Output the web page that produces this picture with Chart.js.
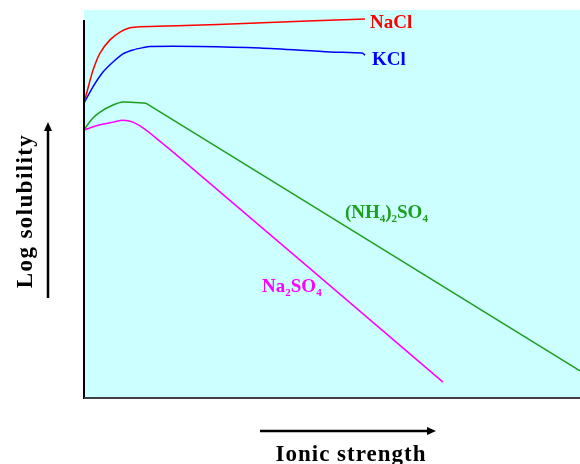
<!DOCTYPE html>
<html>
<head>
<meta charset="utf-8">
<script src="https://cdn.jsdelivr.net/npm/chart.js@4"></script>
<style>
html,body{margin:0;padding:0;background:#fff;}
#c{display:block;}
</style>
</head>
<body>
<canvas id="c" width="580" height="464"></canvas>
<script>
// Ionic strength (arbitrary units, 0-100) and log solubility (arbitrary units, 0-100)
const naclX = [0, 0.81, 1.81, 3.23, 5.24, 7.26, 9.27, 11.29, 20.36, 33.47, 56.65];
const naclY = [76.0, 79.9, 84.5, 88.9, 92.3, 94.3, 95.4, 95.7, 96.0, 96.6, 97.7];
const kclX = [0, 1.81, 3.83, 5.85, 7.86, 9.88, 11.90, 13.31, 23.39, 35.48, 49.60, 56.05, 56.65];
const kclY = [76.0, 80.2, 84.0, 86.6, 88.7, 89.7, 90.3, 90.6, 90.6, 90.2, 89.2, 88.9, 88.4];
const amsX = [0, 1.61, 3.23, 5.85, 7.86, 11.90, 12.70, 100];
const amsY = [69.1, 71.9, 73.7, 75.5, 76.3, 76.0, 75.8, 7.0];
const nasX = [0, 3.23, 5.85, 7.86, 9.88, 11.90, 14.72, 19.35, 72.38];
const nasY = [69.1, 70.4, 71.1, 71.6, 71.1, 69.6, 66.8, 61.9, 4.1];

const seriesNames = ["NaCl", "KCl", "(NH4)2SO4", "Na2SO4"];
const xTitle = "Ionic strength";
const yTitle = "Log solubility";

const pts = (xs, ys) => xs.map((x, i) => ({x: x, y: ys[i]}));

const colors = {nacl: "#FF0000", kcl: "#0000FF", ams: "#1E9E1E", nas: "#FF00FF"};

const decor = {
  id: "decor",
  beforeDraw(chart) {
    const {ctx, chartArea: a} = chart;
    ctx.save();
    ctx.fillStyle = "#CCFFFF";
    ctx.fillRect(a.left, a.top, a.right - a.left, a.bottom - a.top);
    ctx.restore();
  },
  afterDraw(chart) {
    const {ctx, chartArea: a, scales} = chart;
    const xs = scales.x, ys = scales.y;
    ctx.save();
    // axes
    ctx.strokeStyle = "#000";
    ctx.lineWidth = 2;
    ctx.beginPath();
    ctx.moveTo(a.left, a.top + 10);
    ctx.lineTo(a.left, a.bottom + 1);
    ctx.stroke();
    ctx.strokeStyle = "#404040";
    ctx.beginPath();
    ctx.moveTo(a.left, a.bottom);
    ctx.lineTo(a.right, a.bottom);
    ctx.stroke();

    // arrows
    ctx.strokeStyle = "#000";
    ctx.fillStyle = "#000";
    ctx.lineWidth = 2.5;
    const vx = a.left - 36;
    ctx.beginPath(); ctx.moveTo(vx, 298); ctx.lineTo(vx, 130); ctx.stroke();
    ctx.beginPath(); ctx.moveTo(vx, 122); ctx.lineTo(vx - 4, 131); ctx.lineTo(vx + 4, 131); ctx.closePath(); ctx.fill();
    const hy = 431;
    ctx.beginPath(); ctx.moveTo(260, hy); ctx.lineTo(428, hy); ctx.stroke();
    ctx.beginPath(); ctx.moveTo(436, hy); ctx.lineTo(427, hy - 4); ctx.lineTo(427, hy + 4); ctx.closePath(); ctx.fill();

    // axis titles
    ctx.fillStyle = "#000";
    ctx.font = "bold 23px 'Liberation Serif', serif";
    ctx.letterSpacing = "1px";
    ctx.textAlign = "center";
    ctx.textBaseline = "alphabetic";
    ctx.fillText(xTitle, 351, 461);
    ctx.save();
    ctx.translate(32, 211);
    ctx.rotate(-Math.PI / 2);
    ctx.letterSpacing = "1.4px";
    ctx.fillText(yTitle, 0, 0);
    ctx.restore();
    ctx.letterSpacing = "0px";

    // series labels
    ctx.textAlign = "left";
    const big = "bold 19px 'Liberation Serif', serif";
    const small = "bold 11px 'Liberation Serif', serif";
    function rich(parts, x, y, color) {
      ctx.fillStyle = color;
      let cx = x;
      parts.forEach(p => {
        ctx.font = p.sub ? small : big;
        ctx.fillText(p.t, cx, y + (p.sub ? 4 : 0));
        cx += ctx.measureText(p.t).width;
      });
    }
    const nLast = naclX.length - 1, kLast = kclX.length - 1;
    rich([{t: "NaCl"}], xs.getPixelForValue(naclX[nLast]) + 5, ys.getPixelForValue(naclY[nLast]) + 9, colors.nacl);
    rich([{t: "KCl"}], xs.getPixelForValue(kclX[kLast]) + 7, ys.getPixelForValue(kclY[kLast]) + 10, colors.kcl);
    rich([{t: "(NH"}, {t: "4", sub: 1}, {t: ")"}, {t: "2", sub: 1}, {t: "SO"}, {t: "4", sub: 1}],
         xs.getPixelForValue(52.6), ys.getPixelForValue(46.4), colors.ams);
    rich([{t: "Na"}, {t: "2", sub: 1}, {t: "SO"}, {t: "4", sub: 1}],
         xs.getPixelForValue(35.9), ys.getPixelForValue(27.3), colors.nas);
    ctx.restore();
  }
};

const ds = (label, data, color) => ({
  label: label, data: data, borderColor: color, backgroundColor: color,
  borderWidth: 1.5, pointRadius: 0, tension: 0.25, fill: false, showLine: true
});

new Chart(document.getElementById("c"), {
  type: "scatter",
  data: {
    datasets: [
      ds(seriesNames[0], pts(naclX, naclY), colors.nacl),
      ds(seriesNames[1], pts(kclX, kclY), colors.kcl),
      ds(seriesNames[2], pts(amsX, amsY), colors.ams),
      ds(seriesNames[3], pts(nasX, nasY), colors.nas)
    ]
  },
  options: {
    responsive: false,
    animation: false,
    layout: {padding: {left: 84, top: 10, right: 0, bottom: 66}},
    plugins: {legend: {display: false}, tooltip: {enabled: false}},
    scales: {
      x: {type: "linear", min: 0, max: 100, display: false},
      y: {type: "linear", min: 0, max: 100, display: false}
    }
  },
  plugins: [decor]
});
</script>
</body>
</html>
